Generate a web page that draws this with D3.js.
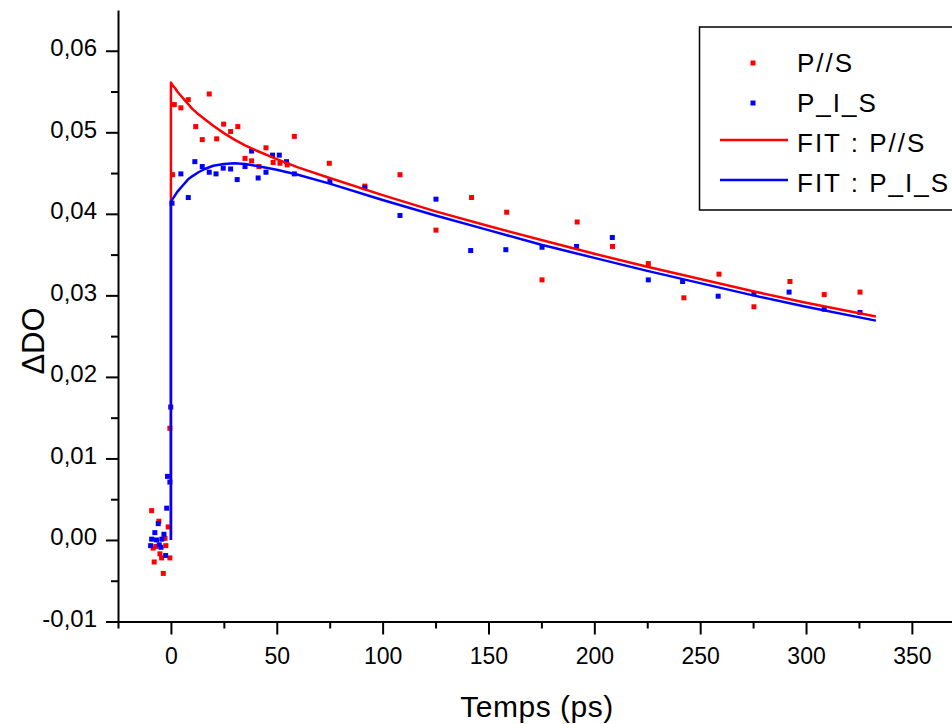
<!DOCTYPE html>
<html>
<head>
<meta charset="utf-8">
<script src="https://cdn.jsdelivr.net/npm/d3@7"></script>
<style>
  html, body { margin: 0; padding: 0; background: #fff; }
  svg { display: block; font-family: Arial, "Liberation Sans", sans-serif; }
</style>
</head>
<body>
<svg id="chart" width="952" height="724"></svg>
<script>
// ---------- data ----------
const parT = [-9.1, -8.4, -7.9, -7.1, -5.7, -5.2, -4.4, -3.6, -2.8, -2.4, -1.3, -0.5, -0.5,
  0.8, 1.6, 4.7, 8.2, 11.7, 14.8, 18.1, 21.6, 24.9, 28.2, 31.6, 35.0, 38.1, 41.6, 44.9, 48.3, 51.5, 54.9, 58.3,
  74.8, 91.6, 108.2, 125.2, 142.0, 158.6, 175.3, 191.9, 208.6, 225.5, 242.3, 258.9, 275.4, 292.4, 308.6, 325.5];
const parV = [0.0036, -0.0010, -0.0027, -0.0008, 0.0023, -0.0017, -0.0022, -0.0041, 0.0002, -0.0007, 0.0016, -0.0022, 0.0137,
  0.0448, 0.0534, 0.0530, 0.0540, 0.0507, 0.0491, 0.0547, 0.0492, 0.0510, 0.0501, 0.0507, 0.0468, 0.0465, 0.0458, 0.0481, 0.0463, 0.0462, 0.0460, 0.0495,
  0.0462, 0.0434, 0.0448, 0.0380, 0.0420, 0.0402, 0.0319, 0.0390, 0.0360, 0.0339, 0.0297, 0.0326, 0.0286, 0.0317, 0.0301, 0.0304];

const perpT = [-9.6, -9.1, -7.6, -6.8, -6.0, -5.5, -4.7, -4.3, -3.3, -2.5, -2.0, -1.6, -0.5, -0.1,
  0.5, 4.7, 8.2, 11.3, 14.8, 18.1, 21.3, 24.7, 28.2, 31.3, 35.0, 38.1, 41.2, 44.9, 48.0, 51.2, 54.6, 58.3,
  75.1, 91.6, 108.2, 125.2, 141.6, 158.2, 175.3, 191.6, 208.5, 225.5, 241.7, 258.5, 275.4, 292.0, 308.6, 325.5];
const perpV = [-0.0007, 0.0001, 0.0009, 0.0000, 0.0020, -0.0006, -0.0009, 0.0001, 0.0007, -0.0019, 0.0039, 0.0078, 0.0071, 0.0163,
  0.0413, 0.0449, 0.0420, 0.0464, 0.0458, 0.0451, 0.0449, 0.0456, 0.0455, 0.0442, 0.0458, 0.0477, 0.0444, 0.0451, 0.0472, 0.0472, 0.0464, 0.0449,
  0.0440, 0.0432, 0.0398, 0.0418, 0.0355, 0.0356, 0.0359, 0.0360, 0.0371, 0.0319, 0.0317, 0.0299, 0.0302, 0.0304, 0.0283, 0.0279];

const fitT = [0, 0, 1, 2, 3, 4, 6, 8, 10, 13, 16, 20, 25, 30, 35, 40, 50, 60, 75, 100, 125, 150, 175, 200, 225, 250, 275, 300, 333];
const fitPar = [0, 0.0561, 0.0557, 0.0554, 0.0550, 0.0547, 0.0541, 0.0535, 0.0529, 0.0522, 0.0516, 0.0508, 0.0499, 0.0491, 0.0484, 0.0478,
  0.0467, 0.0457, 0.0444, 0.0423, 0.0403, 0.0385, 0.0368, 0.0351, 0.0335, 0.0320, 0.0305, 0.0291, 0.0274];
const fitPerp = [0, 0.0415, 0.0419, 0.0423, 0.0427, 0.0430, 0.0436, 0.0442, 0.0446, 0.0451, 0.0455, 0.0459, 0.0461, 0.0462, 0.0461, 0.0459,
  0.0454, 0.0448, 0.0437, 0.0417, 0.0398, 0.0380, 0.0362, 0.0346, 0.0330, 0.0315, 0.0300, 0.0286, 0.0269];

const xMajor = [0, 50, 100, 150, 200, 250, 300, 350];
const xMinor = [-25, 25, 75, 125, 175, 225, 275, 325, 375];
const yMajor = [-0.01, 0, 0.01, 0.02, 0.03, 0.04, 0.05, 0.06];
const yMinor = [-0.005, 0.005, 0.015, 0.025, 0.035, 0.045, 0.055];

const legendLabels = ["P//S", "P_I_S", "FIT : P//S", "FIT : P_I_S"];
const seriesColors = ["#ff0000", "#0000ff", "#ff0000", "#0000ff"];
const xTitle = "Temps (ps)";
const yTitle = "\u0394DO";

// ---------- drawing ----------
const svg = d3.select("#chart");
svg.append("rect").attr("width", 952).attr("height", 724).attr("fill", "#fff");

const x = d3.scaleLinear().domain([-25, 375]).range([118, 964.8]);
const y = d3.scaleLinear().domain([-0.01, 0.065]).range([621.5, 10]);

const loc = d3.formatLocale({decimal: ",", thousands: ".", grouping: [3], currency: ["", ""], minus: "-"});
const yFmt = loc.format(".2f");

// minor ticks (drawn via axes with no labels)
svg.append("g").attr("transform", `translate(0,${y(-0.01)})`)
  .call(d3.axisBottom(x).tickValues(xMinor).tickSize(7).tickFormat("").tickSizeOuter(0))
  .call(g => g.select(".domain").remove());
svg.append("g").attr("transform", `translate(${x(-25)},0)`)
  .call(d3.axisLeft(y).tickValues(yMinor).tickSize(7).tickFormat("").tickSizeOuter(0))
  .call(g => g.select(".domain").remove());

// major axes
const gx = svg.append("g").attr("transform", `translate(0,${y(-0.01)})`)
  .call(d3.axisBottom(x).tickValues(xMajor).tickSize(13).tickSizeOuter(0).tickPadding(8));
const gy = svg.append("g").attr("transform", `translate(${x(-25)},0)`)
  .call(d3.axisLeft(y).tickValues(yMajor).tickSize(12).tickSizeOuter(0).tickFormat(yFmt).tickPadding(9));

svg.selectAll(".tick line").attr("stroke", "#000").attr("stroke-width", 2);
svg.selectAll(".domain").attr("stroke", "#000").attr("stroke-width", 2);
gx.selectAll(".tick text").attr("font-size", 23).attr("fill", "#000")
  .attr("font-family", "Arial, 'Liberation Sans', sans-serif").attr("dy", "0.95em");
gy.selectAll(".tick text").attr("font-size", 24).attr("fill", "#000")
  .attr("font-family", "Arial, 'Liberation Sans', sans-serif").attr("dy", "0.2em");

// axis titles
svg.append("text").attr("x", 537).attr("y", 717).attr("text-anchor", "middle")
  .attr("font-size", 30).attr("letter-spacing", 0.5).attr("fill", "#000").text(xTitle);
svg.append("text").attr("transform", "translate(44,341) rotate(-90)").attr("text-anchor", "middle")
  .attr("font-size", 31).attr("fill", "#000").text(yTitle);

// scatter series
const msz = 5;
function scatter(ts, vs, color) {
  svg.append("g").selectAll("rect").data(ts.map((t, i) => [t, vs[i]])).join("rect")
    .attr("x", d => x(d[0]) - msz / 2).attr("y", d => y(d[1]) - msz / 2)
    .attr("width", msz).attr("height", msz).attr("fill", color);
}
scatter(parT, parV, seriesColors[0]);
scatter(perpT, perpV, seriesColors[1]);

// fit lines
const line = d3.line().x(d => x(d[0])).y(d => y(d[1])).curve(d3.curveLinear);
svg.append("path").datum(fitT.map((t, i) => [t, fitPar[i]])).attr("d", line)
  .attr("fill", "none").attr("stroke", seriesColors[2]).attr("stroke-width", 2.5).attr("stroke-linejoin", "round");
svg.append("path").datum(fitT.map((t, i) => [t, fitPerp[i]])).attr("d", line)
  .attr("fill", "none").attr("stroke", seriesColors[3]).attr("stroke-width", 2.5).attr("stroke-linejoin", "round");

// legend
const lg = svg.append("g");
lg.append("rect").attr("x", 699.5).attr("y", 27).attr("width", 300).attr("height", 183)
  .attr("fill", "#fff").attr("stroke", "#000").attr("stroke-width", 1.5);
const rowY = [63, 103, 143, 183];
legendLabels.forEach((lab, i) => {
  if (i < 2) {
    lg.append("rect").attr("x", 753 - msz / 2).attr("y", rowY[i] - msz / 2)
      .attr("width", msz).attr("height", msz).attr("fill", seriesColors[i]);
  } else {
    lg.append("line").attr("x1", 720).attr("x2", 788).attr("y1", rowY[i] - 3).attr("y2", rowY[i] - 3)
      .attr("stroke", seriesColors[i]).attr("stroke-width", 2.5);
  }
  lg.append("text").attr("x", 797).attr("y", rowY[i] + 9).attr("font-size", 26)
    .attr("letter-spacing", 2).attr("fill", "#000").text(lab);
});
</script>
</body>
</html>
